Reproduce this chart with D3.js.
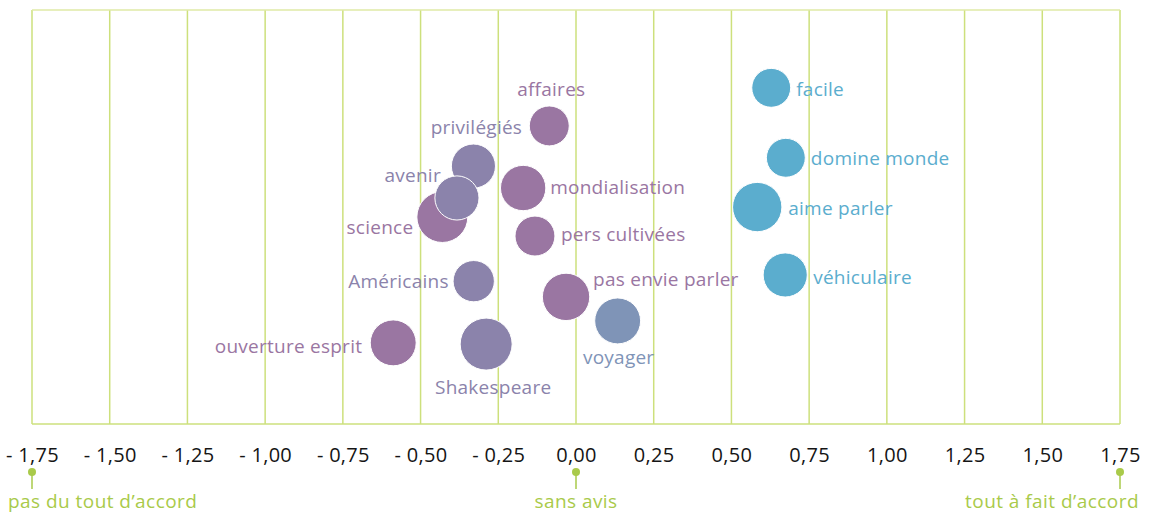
<!DOCTYPE html>
<html>
<head>
<meta charset="utf-8">
<script src="https://cdn.jsdelivr.net/npm/d3@7"></script>
<style>
  body { margin: 0; background: #fff; }
  svg { display: block; font-family: "Open Sans", sans-serif; }
</style>
</head>
<body>
<div id="chart"></div>
<script>
// data
var names = ['science', 'privilégiés', 'avenir', 'affaires', 'mondialisation', 'pers cultivées',
  'Américains', 'pas envie parler', 'voyager', 'ouverture esprit', 'Shakespeare',
  'facile', 'domine monde', 'aime parler', 'véhiculaire'];
var scores = [-0.430, -0.330, -0.383, -0.086, -0.170, -0.132,
  -0.329, -0.032, 0.134, -0.588, -0.289,
  0.628, 0.675, 0.583, 0.673];
var rows = [50.0, 62.3, 54.6, 72.0, 57.0, 45.4,
  34.5, 30.7, 24.9, 19.6, 19.3,
  81.2, 64.3, 52.4, 36.0];
var weights = [96, 72, 72, 59, 76, 59,
  63, 83, 78, 78, 100,
  56, 56, 90, 72];
var groups = ['a', 'b', 'b', 'a', 'a', 'a',
  'b', 'a', 'd', 'a', 'b',
  'c', 'c', 'c', 'c'];
var ticks = [-1.75, -1.5, -1.25, -1, -0.75, -0.5, -0.25, 0, 0.25, 0.5, 0.75, 1, 1.25, 1.5, 1.75];
var anchors = [[-1.75, 'pas du tout d\u2019accord'], [0, 'sans avis'], [1.75, 'tout à fait d\u2019accord']];

// label layout: [text-anchor, dx, dy] from bubble centre
var labelPlace = {
  'affaires': ['middle', 2, -30],
  'privilégiés': ['middle', 3, -32],
  'avenir': ['end', -16, -16],
  'science': ['end', -29, 17],
  'mondialisation': ['start', 27, 6],
  'pers cultivées': ['start', 26, 5],
  'Américains': ['end', -25, 7],
  'pas envie parler': ['start', 27, -11],
  'voyager': ['middle', 1, 43],
  'ouverture esprit': ['end', -31, 10],
  'Shakespeare': ['middle', 7, 50],
  'facile': ['start', 25, 8],
  'domine monde': ['start', 25, 7],
  'aime parler': ['start', 31, 8],
  'véhiculaire': ['start', 28, 9]
};

var colors = { a: '#9a76a2', b: '#8b83ab', c: '#5badce', d: '#7f94b7' };
var green = '#cde07c';
var greenText = '#a9ca4a';

var width = 1153, height = 513;
var margin = { top: 10, left: 32, right: 33, bottom: 89 };

var svg = d3.select('#chart').append('svg')
    .attr('width', width)
    .attr('height', height);

var x = d3.scaleLinear().domain([-1.75, 1.75]).range([margin.left, width - margin.right]);
var y = d3.scaleLinear().domain([0, 100]).range([height - margin.bottom, margin.top]);
var r = d3.scaleSqrt().domain([0, 100]).range([0, 26]);

// grid
var grid = svg.append('g').attr('class', 'grid');
grid.selectAll('line')
    .data(ticks)
  .enter().append('line')
    .attr('x1', function(d) { return x(d); })
    .attr('x2', function(d) { return x(d); })
    .attr('y1', y(100))
    .attr('y2', y(0))
    .attr('stroke', green)
    .attr('stroke-width', 1.5);
grid.append('line')
    .attr('x1', x(-1.75)).attr('x2', x(1.75))
    .attr('y1', y(100)).attr('y2', y(100))
    .attr('stroke', '#dfeaa6').attr('stroke-width', 1.5);
grid.append('line')
    .attr('x1', x(-1.75)).attr('x2', x(1.75))
    .attr('y1', y(0)).attr('y2', y(0))
    .attr('stroke', green).attr('stroke-width', 1.5);

// x axis
var fmt = function(d) {
  var s = d3.format('.2f')(Math.abs(d)).replace('.', ',');
  return d < 0 ? '- ' + s : s;
};
var axis = svg.append('g')
    .attr('transform', 'translate(0,' + (y(0) + 38) + ')')
    .call(d3.axisBottom(x).tickValues(ticks).tickFormat(fmt).tickSize(0).tickPadding(0));
axis.select('.domain').remove();
axis.selectAll('text')
    .attr('dy', 0)
    .attr('fill', '#151515')
    .style('font-size', '20px')
    .style('letter-spacing', '0.3px')
    .style('font-family', '"Open Sans", sans-serif');

// anchors under the axis
var anc = svg.append('g').selectAll('g')
    .data(anchors)
  .enter().append('g')
    .attr('transform', function(d) { return 'translate(' + x(d[0]) + ',0)'; });
anc.append('line')
    .attr('y1', 472).attr('y2', 489)
    .attr('stroke', greenText).attr('stroke-width', 1.5);
anc.append('circle')
    .attr('cy', 472).attr('r', 4)
    .attr('fill', greenText);
anc.append('text')
    .attr('y', 508)
    .attr('fill', greenText)
    .style('font-size', '19px')
    .style('letter-spacing', '0.45px')
    .attr('text-anchor', function(d, i) { return i === 0 ? 'start' : (i === 2 ? 'end' : 'middle'); })
    .attr('dx', function(d, i) { return i === 0 ? -24 : (i === 2 ? 19 : 0); })
    .text(function(d) { return d[1]; });

// bubbles
var data = names.map(function(n, i) {
  return { name: n, score: scores[i], row: rows[i], weight: weights[i], group: groups[i] };
});

var bubbles = svg.append('g').attr('class', 'bubbles');
bubbles.selectAll('circle')
    .data(data)
  .enter().append('circle')
    .attr('cx', function(d) { return x(d.score); })
    .attr('cy', function(d) { return y(d.row); })
    .attr('r', function(d) { return r(d.weight); })
    .attr('fill', function(d) { return colors[d.group]; })
    .attr('stroke', '#fff')
    .attr('stroke-width', 1);

bubbles.selectAll('text')
    .data(data)
  .enter().append('text')
    .attr('x', function(d) { return x(d.score) + labelPlace[d.name][1]; })
    .attr('y', function(d) { return y(d.row) + labelPlace[d.name][2]; })
    .attr('text-anchor', function(d) { return labelPlace[d.name][0]; })
    .attr('fill', function(d) { return colors[d.group]; })
    .style('font-size', '19px')
    .style('letter-spacing', '0.25px')
    .text(function(d) { return d.name; });
</script>
</body>
</html>
